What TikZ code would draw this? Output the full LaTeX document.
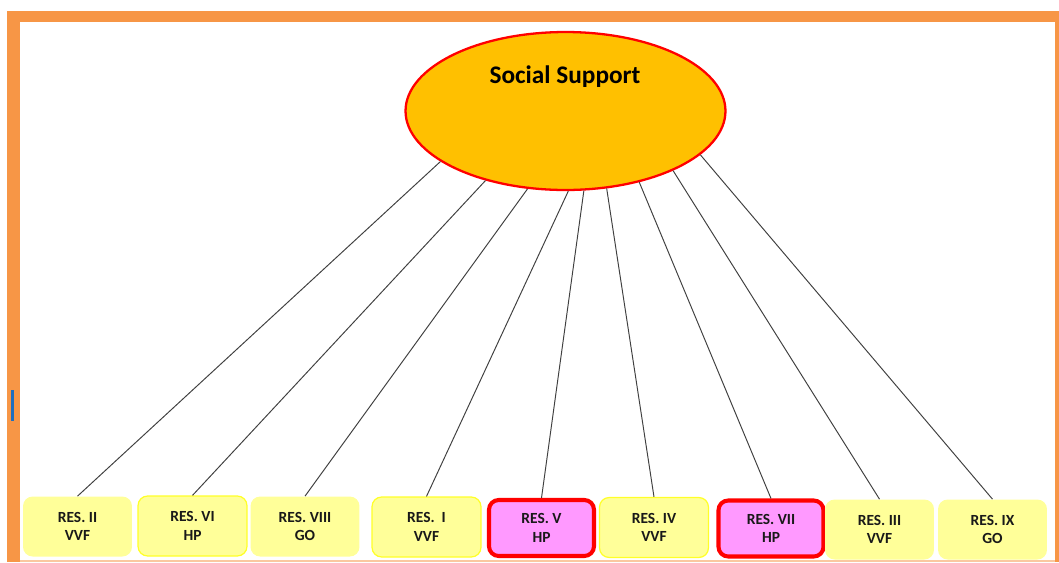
\documentclass[tikz,border=0pt]{standalone}
\usepackage{fontspec}
\setmainfont{Carlito}
\usetikzlibrary{shapes.geometric, positioning}

\begin{document}
\begin{tikzpicture}[
  x=0.02cm, y=-0.02cm,
  execute at begin picture={
    \definecolor{frameorange}{RGB}{247,150,70}
    \definecolor{framelight}{RGB}{250,200,160}
    \definecolor{supportgold}{RGB}{255,192,0}
    \definecolor{resyellow}{RGB}{255,255,153}
    \definecolor{resborder}{RGB}{255,255,40}
    \definecolor{respink}{RGB}{255,153,255}
    \definecolor{cursorblue}{RGB}{31,110,190}
  },
  font=\fontsize{8.8}{10.6}\selectfont\bfseries,
  res/.style={
    rounded corners=5.5pt,
    fill=resyellow,
    align=center,
    inner sep=0pt,
    minimum width=2.18cm,
    minimum height=1.2cm,
    text=black!90
  },
  resedge/.style={res, draw=resborder, line width=0.7pt},
  reshot/.style={res, fill=respink, draw=red, line width=2.3pt,
    minimum width=2.1cm, minimum height=1.12cm},
  spoke/.style={draw=black!75, line width=0.55pt}
]

\useasboundingbox (0,0) rectangle (1059,562);
\fill[frameorange] (7,11) rectangle (1059,562);
\fill[white] (20,22) rectangle (1055,560);
\fill[framelight] (20,560) rectangle (1055,562);
\fill[cursorblue] (11,390) rectangle (13.5,421);

\node[ellipse, draw=red, line width=1.3pt, fill=supportgold,
  minimum width=6.4cm, minimum height=3.16cm, inner sep=0pt] (support) at (565.5,111) {};
\node[font=\fontsize{14.4}{17}\selectfont\bfseries] (supporttitle) at (565,77)
  {Social Support};

\node[res] (res2) at (77.5,526.5) {RES. II\\VVF};
\node[resedge] (res6) at (192.5,526) {RES. VI\\HP};
\node[res] (res8) at (305,526.5) {RES. VIII\\GO};
\node[resedge] (res1) at (426.5,527) {RES.~~I\\VVF};
\node[reshot] (res5) at (541.5,528) {RES. V\\HP};
\node[resedge] (res4) at (654,527.5) {RES. IV\\VVF};
\node[reshot] (res7) at (771,528.5) {RES. VII\\HP};
\node[res] (res3) at (879.5,529.5) {RES. III\\VVF};
\node[res] (res9) at (992.5,529.5) {RES. IX\\GO};

\draw[spoke] (support.202.4) -- (res2.north);
\draw[spoke] (support.221.3) -- (res6.north);
\draw[spoke] (support.244.6) -- (res8.north);
\draw[spoke] (support.272.8) -- (res1.north);
\draw[spoke] (support.283) -- (res5.north);
\draw[spoke] (support.298.2) -- (res4.north);
\draw[spoke] (support.316.5) -- (res7.north);
\draw[spoke] (support.331.2) -- (res3.north);
\draw[spoke] (support.342.4) -- (res9.north);

\end{tikzpicture}
\end{document}
